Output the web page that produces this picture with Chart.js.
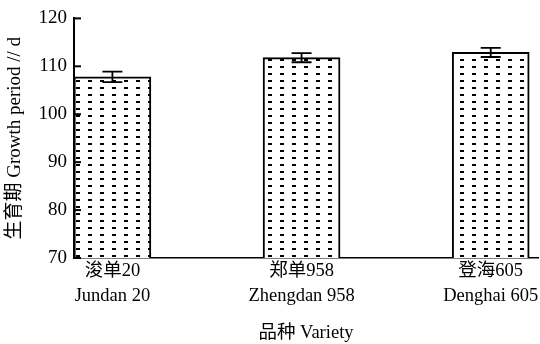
<!DOCTYPE html>
<html>
<head>
<meta charset="utf-8">
<script src="https://cdn.jsdelivr.net/npm/chart.js@4.4.0/dist/chart.umd.min.js"></script>
<style>
  html, body { margin: 0; padding: 0; background: #fff; }
  #wrap { width: 540px; height: 344px; }
</style>
</head>
<body>
<div id="wrap"><canvas id="myChart" width="540" height="344"></canvas></div>
<script>
// data
var varietiesCn = ['浚单20', '郑单958', '登海605'];
var varietiesEn = ['Jundan 20', 'Zhengdan 958', 'Denghai 605'];
var growthDays = [107.8, 111.8, 112.9];
var growthErr = [1.1, 0.95, 0.95];
var yTicks = [70, 80, 90, 100, 110, 120];

var FONT = "'Liberation Serif', 'Noto Sans CJK SC', serif";

// dotted fill for the bars
function dotPattern() {
    var c = document.createElement('canvas');
    c.width = 12; c.height = 7;
    var g = c.getContext('2d');
    g.fillStyle = '#fff';
    g.fillRect(0, 0, 12, 7);
    g.fillStyle = '#000';
    g.fillRect(4, 3, 4, 2);
    return document.getElementById('myChart').getContext('2d').createPattern(c, 'repeat');
}

// error bars + inward y ticks
var extras = {
    id: 'extras',
    afterDatasetsDraw: function(chart) {
        var ctx = chart.ctx;
        var xs = chart.scales.x, ys = chart.scales.y;
        ctx.save();
        ctx.strokeStyle = '#000';
        ctx.lineWidth = 1.8;
        for (var i = 0; i < growthDays.length; i++) {
            var x = xs.getPixelForValue(i);
            var top = ys.getPixelForValue(growthDays[i] + growthErr[i]);
            var bot = ys.getPixelForValue(growthDays[i] - growthErr[i]);
            ctx.beginPath();
            ctx.moveTo(x, top); ctx.lineTo(x, bot);
            ctx.moveTo(x - 10, top); ctx.lineTo(x + 10, top);
            ctx.moveTo(x - 10, bot); ctx.lineTo(x + 10, bot);
            ctx.stroke();
        }
        ctx.lineWidth = 2;
        yTicks.forEach(function(v) {
            var y = ys.getPixelForValue(v);
            ctx.beginPath();
            ctx.moveTo(xs.left, y); ctx.lineTo(xs.left + 7, y);
            ctx.stroke();
        });
        ctx.restore();
    }
};

var ctx = document.getElementById('myChart').getContext('2d');
var myChart = new Chart(ctx, {
    type: 'bar',
    data: {
        datasets: [{
            label: 'Growth period',
            data: growthDays.map(function(v, i) { return { x: i, y: v }; }),
            backgroundColor: dotPattern(),
            borderColor: '#000',
            borderWidth: 2,
            borderSkipped: false,
            barThickness: 77
        }]
    },
    options: {
        responsive: false,
        animation: false,
        layout: { padding: { top: 17, right: 2, left: 0, bottom: 0 } },
        plugins: { legend: { display: false }, tooltip: { enabled: false } },
        scales: {
            x: {
                type: 'linear',
                offset: false,
                min: -0.203,
                max: 2.25,
                afterBuildTicks: function(scale) {
                    scale.ticks = varietiesCn.map(function(_, i) { return { value: i }; });
                },
                afterFit: function(scale) { scale.height = 86; },
                grid: { display: false, drawTicks: false, offset: false },
                border: { display: true, color: '#000', width: 1.5 },
                ticks: {
                    padding: 1,
                    maxRotation: 0,
                    autoSkip: false,
                    color: '#000',
                    font: { family: FONT, size: 18.5, lineHeight: 1.35 },
                    callback: function(v) {
                        return [varietiesCn[v], varietiesEn[v]];
                    }
                },
                title: {
                    display: true,
                    text: '品种 Variety',
                    color: '#000',
                    font: { family: FONT, size: 18.5 },
                    padding: { top: 6, bottom: 0 }
                }
            },
            y: {
                min: 70,
                max: 120,
                afterBuildTicks: function(scale) {
                    scale.ticks = yTicks.map(function(v) { return { value: v }; });
                },
                afterFit: function(scale) { scale.width = 74; },
                grid: { display: false, drawTicks: false },
                border: { display: true, color: '#000', width: 2 },
                ticks: {
                    padding: 7,
                    color: '#000',
                    font: { family: FONT, size: 19 }
                },
                title: {
                    display: true,
                    text: '生育期 Growth period // d',
                    color: '#000',
                    font: { family: FONT, size: 19 },
                    padding: { top: 4, bottom: 0 }
                }
            }
        }
    },
    plugins: [extras]
});
</script>
</body>
</html>
